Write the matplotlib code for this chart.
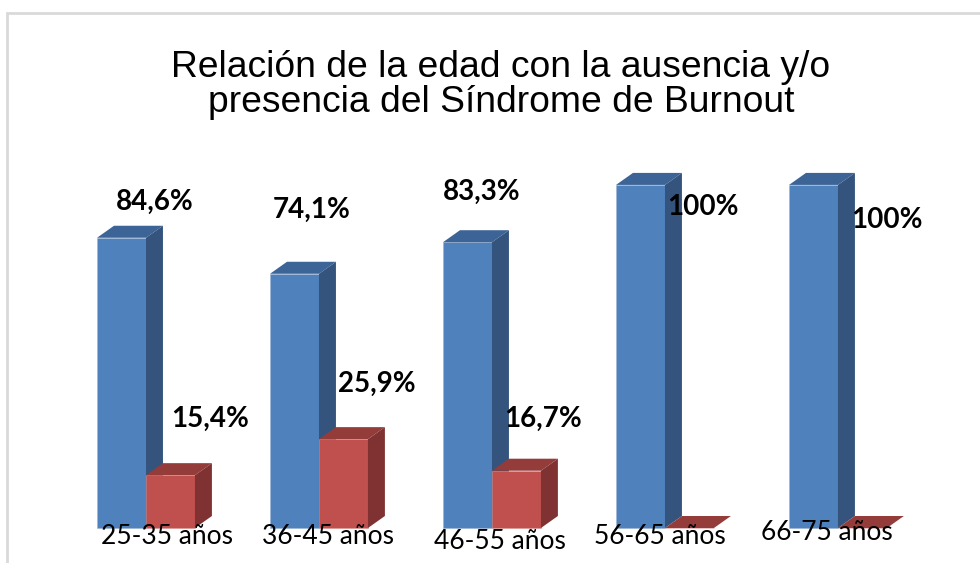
import matplotlib
matplotlib.use("Agg")
import matplotlib.pyplot as plt
from matplotlib.patches import Polygon, Rectangle

# data
categories = ["25-35 años", "36-45 años", "46-55 años", "56-65 años", "66-75 años"]
ausencia = [84.6, 74.1, 83.3, 100, 100]
presencia = [15.4, 25.9, 16.7, 0, 0]
aus_labels = ["84,6%", "74,1%", "83,3%", "100%", "100%"]
pres_labels = ["15,4%", "25,9%", "16,7%", "", ""]

title = "Relación de la edad con la ausencia y/o\npresencia del Síndrome de Burnout"

# label placement relative to the group centre (the original has hand-moved text boxes)
aus_lab_pos = [(0.052, 10.4), (-0.04, 18.6), (-0.058, 14.7), (0.22, -6.4), (0.283, -10.2)]
pres_lab_pos = [(0.37, 16.4), (0.335, 16.1), (0.295, 15.0)]
cat_lab_pos = [(0.121, -2.6), (0.052, -2.6), (0.046, -3.8), (-0.029, -2.6), (-0.064, -1.2)]

W = 0.283      # bar width
DX = 0.098     # depth offset x
DY = 3.5       # depth offset y

blue = ("#4F81BD", "#3C6496", "#34547E")
red = ("#C0504D", "#943C3A", "#7F3231")

fig = plt.figure(figsize=(9.8, 5.63), dpi=100)
ax = fig.add_axes([0, 0, 1, 1])
ax.set_xlim(-0.844, 4.821)
ax.set_ylim(-10.2, 153.9)
ax.axis("off")

# light frame of the chart area
fig.patches.append(Rectangle((7 / 980, -0.1), 1.2, 1.1 - 13 / 563,
                             transform=fig.transFigure, fill=False,
                             edgecolor="#D9D9D9", linewidth=2))


def bar3d(x0, h, cols):
    front, top, side = cols
    ax.bar(x0, h, width=W, align="edge", color=front,
           edgecolor="#9DB3D3" if front == blue[0] else "#D99694",
           linewidth=0.4, zorder=2)
    ax.add_patch(Polygon([(x0, h), (x0 + DX, h + DY), (x0 + W + DX, h + DY), (x0 + W, h)],
                         closed=True, facecolor=top, edgecolor="none", zorder=2))
    ax.add_patch(Polygon([(x0 + W, 0), (x0 + W + DX, DY), (x0 + W + DX, h + DY), (x0 + W, h)],
                         closed=True, facecolor=side, edgecolor="none", zorder=2))


for i in range(len(categories)):
    bar3d(i - W, ausencia[i], blue)
    bar3d(i, presencia[i], red)

    dx, dy = aus_lab_pos[i]
    ax.text(i + dx, ausencia[i] + dy, aus_labels[i], ha="center", va="center",
            fontsize=20, fontweight="bold", family="Lato", zorder=4)
    if pres_labels[i]:
        dx, dy = pres_lab_pos[i]
        ax.text(i + dx, presencia[i] + dy, pres_labels[i], ha="center", va="center",
                fontsize=20, fontweight="bold", family="Lato", zorder=4)
    dx, dy = cat_lab_pos[i]
    ax.text(i + dx, dy, categories[i], ha="center", va="center",
            fontsize=19, family="Lato", zorder=4)

fig.text(0.511, 0.849, title, ha="center", va="center", fontsize=26.8,
         family="Liberation Sans", linespacing=1.0)

fig.savefig("out.png", dpi=100)
